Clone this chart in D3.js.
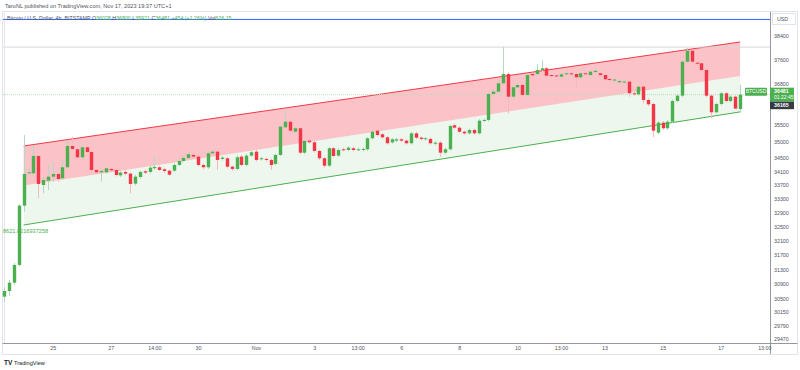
<!DOCTYPE html>
<html><head><meta charset="utf-8">
<script src="https://cdn.jsdelivr.net/npm/d3@7"></script>
<style>body{margin:0;background:#fff;overflow:hidden}svg{display:block;font-family:"Liberation Sans",Arial,sans-serif}</style>
</head><body><svg id="c" width="800" height="370"></svg>
<script>
// ---- data (4h candles, BITSTAMP BTCUSD) ----
const opens = [30580,30733,30957,31440,33111,34060,34060,34580,33714,33841,33960,34040,33912,34240,34883,34782,34540,34843,34700,34159,34090,34090,34190,34159,34000,34100,34050,33753,33950,34120,34100,34210,34240,34180,34138,34138,34309,34429,34520,34610,34560,34309,34240,34660,34710,34490,34510,34258,34190,34560,34309,34590,34710,34480,34490,34459,34339,34610,35457,35630,35320,35426,34679,35045,34996,34731,34510,34288,34813,34590,34782,34761,34813,34770,34761,34782,35118,35352,35240,35148,34993,35045,35087,35045,34965,35270,35136,35087,35097,34950,34984,34679,34782,35519,35445,35320,35270,35373,35270,35662,35684,36504,36578,36846,37145,36418,36718,36792,36473,37145,37145,37276,37331,37113,37100,37060,37135,37168,37145,37040,37168,37113,37210,37168,37113,36984,36936,36880,36880,36900,36526,36494,36737,36313,36186,35290,35600,35426,35630,36281,36450,37548,37910,37515,37495,37276,36450,35925,36186,36526,36281,36418,36028];
const highs = [30841,31030,31495,33160,35219,34190,34913,34610,33950,34309,34408,34100,34459,35066,35167,34830,34900,34920,34750,34200,34180,34260,34230,34190,34130,34150,34090,34020,34140,34170,34280,34559,34290,34220,34170,34360,34480,34600,34700,34680,34600,34350,34720,34760,34760,34580,34560,34290,34600,34610,34640,34740,34770,34560,34530,34500,34650,35520,35997,35700,35480,35470,35090,35100,35040,34770,34550,34860,34860,34810,34830,34880,34860,34830,34840,35160,35370,35400,35280,35190,35130,35130,35130,35090,35320,35320,35180,35160,35140,35030,35030,34830,35540,35570,35490,35360,35420,35420,35710,35730,36560,36630,36900,38033,37200,36770,36850,36850,37160,37190,37472,37604,37380,37160,37150,37190,37220,37210,37190,37220,37210,37270,37300,37210,37160,37030,37010,36970,36950,36950,36570,36790,36790,36360,36230,35650,35650,35680,36330,36500,37600,38000,37960,37560,37540,37320,36500,36230,36570,36570,36460,36460,36800];
const lows = [30439,30600,30900,31400,32937,34010,34000,33334,33470,33567,33812,33812,33880,34200,34760,34480,34500,34650,34060,34040,33812,34050,34100,33960,33950,34000,33470,33700,33900,34040,34060,34170,34120,34080,33970,34100,34270,34390,34480,34520,34260,34180,34190,34620,34159,34440,34200,34130,34150,34260,34270,34550,34410,34440,34420,34159,34300,34580,35400,35300,35260,34630,34630,34950,34680,34460,34230,34240,34540,34550,34720,34720,34720,34730,34720,34740,35080,35170,35100,34920,34950,35000,35000,34920,34920,35090,35050,35040,34920,34900,34559,34630,34740,35400,35280,35220,35230,35230,35230,35620,35640,36460,36530,36800,35893,36370,36670,36420,36420,37060,37100,37230,37040,37030,37020,37010,37090,37100,36740,36990,37090,37070,37170,37070,36930,36900,36890,36840,36830,36418,36450,36450,36209,36120,35150,35240,35380,35380,35590,36230,36400,37500,37500,37430,37230,36400,35740,35880,36140,36230,36230,36030,35921];
const closes = [30733,30957,31440,33111,34040,34090,34580,33744,33862,33960,34040,33892,34240,34883,34791,34540,34843,34700,34159,34090,34129,34210,34150,34010,34080,34050,33744,33960,34100,34080,34228,34250,34159,34129,34019,34309,34429,34520,34631,34560,34309,34240,34660,34710,34459,34530,34258,34190,34540,34309,34590,34691,34459,34510,34459,34309,34610,35476,35630,35352,35426,34679,35035,34996,34731,34510,34288,34813,34580,34761,34761,34831,34761,34782,34791,35118,35320,35219,35148,34965,35087,35087,35045,34965,35270,35136,35097,35118,34965,34984,34679,34782,35497,35445,35320,35270,35373,35270,35662,35684,36504,36578,36846,37145,36418,36718,36792,36473,37113,37103,37276,37331,37091,37081,37070,37135,37168,37145,37040,37168,37135,37220,37250,37113,36975,36952,36968,36920,36900,36526,36494,36737,36313,36176,35352,35600,35426,35630,36281,36450,37548,37910,37548,37482,37276,36450,35925,36186,36526,36281,36418,36040,36481];

// regression channel (start/end candle index, prices at each end)
const channelIdx = [4, 152];
const channelUpper = [34883, 38200];
const channelMid = [33700, 37080];
const channelLower = [32556, 35937];

// price axis tick labels (36000 is hidden behind the price labels)
const priceTicks = [38400,37600,36800,35500,35000,34500,34100,33700,33300,32900,32500,32100,31700,31300,30900,30500,30150,29790,29470];
// time axis tick labels (candle index, label)
const timeTickIdx = [10,22,31,40,52,64,73,82,94,106,115,124,136,148,157];
const timeTickLabels = ["25","27","14:00","30","Nov","3","13:00","6","8","10","13:00","13","15","17","13:00"];

// horizontal lines
const blueLevel = 38960;
const grayLevel = 38030;
const lastPrice = 36481;
const markPrice = 36165;

// ---- drawing ----
const svg = d3.select("#c");
const GREEN = "#4caf50", RED = "#f23645";
const plotL = 3, plotR = 770, plotT = 12, plotB = 343;

const x = d3.scaleLinear().domain([0, 152]).range([4.3, 740.1]);
const y = d3.scaleLog().domain([29470, 38400]).range([339, 36]);

const candles = opens.map((o, i) => ({i, o, h: highs[i], l: lows[i], c: closes[i]}));

// frame
svg.append("rect").attr("x", 2.5).attr("y", 11.5).attr("width", 795).attr("height", 343)
  .attr("fill", "none").attr("stroke", "#e0e3eb").attr("stroke-width", 1);

// header
svg.append("text").attr("x", 5).attr("y", 8).attr("font-size", 5.6).attr("fill", "#50535e")
  .text("TaroNL published on TradingView.com, Nov 17, 2023 19:37 UTC+1");

const g = svg.append("g");

// channel fills
const cx0 = x(channelIdx[0]), cx1 = x(channelIdx[1]);
g.append("path").attr("fill", "rgba(242,54,69,0.3)")
  .attr("d", `M${cx0},${y(channelUpper[0])}L${cx1},${y(channelUpper[1])}L${cx1},${y(channelMid[1])}L${cx0},${y(channelMid[0])}Z`);
g.append("path").attr("fill", "rgba(76,175,80,0.1)")
  .attr("d", `M${cx0},${y(channelMid[0])}L${cx1},${y(channelMid[1])}L${cx1},${y(channelLower[1])}L${cx0},${y(channelLower[0])}Z`);
g.append("line").attr("x1", cx0).attr("x2", cx1).attr("y1", y(channelUpper[0])).attr("y2", y(channelUpper[1]))
  .attr("stroke", RED).attr("stroke-width", 1);
g.append("line").attr("x1", cx0).attr("x2", cx1).attr("y1", y(channelLower[0])).attr("y2", y(channelLower[1]))
  .attr("stroke", GREEN).attr("stroke-width", 1);

// horizontal lines
g.append("line").attr("x1", plotL).attr("x2", plotR).attr("y1", y(grayLevel)).attr("y2", y(grayLevel))
  .attr("stroke", "#d6d6d6").attr("stroke-width", 1);
g.append("line").attr("x1", plotL).attr("x2", plotR).attr("y1", y(lastPrice)).attr("y2", y(lastPrice))
  .attr("stroke", "#b9dcba").attr("stroke-width", 1).attr("stroke-dasharray", "1,1");
g.append("line").attr("x1", 4.5).attr("x2", 4.5).attr("y1", plotT).attr("y2", plotB)
  .attr("stroke", "#e6e6e6").attr("stroke-width", 1);

// candles
const cg = g.append("g");
cg.selectAll("line.w").data(candles).join("line").attr("class", "w")
  .attr("x1", d => Math.round(x(d.i)) + 0.5).attr("x2", d => Math.round(x(d.i)) + 0.5)
  .attr("y1", d => y(d.h)).attr("y2", d => y(d.l))
  .attr("stroke", d => d.c >= d.o ? "#b5d8c0" : "#f3b9bf").attr("stroke-width", 1);
cg.selectAll("rect.b").data(candles).join("rect").attr("class", "b")
  .attr("x", d => Math.round(x(d.i)) - 1.2).attr("width", 3.4)
  .attr("y", d => y(Math.max(d.o, d.c)))
  .attr("height", d => Math.max(1, Math.abs(y(d.o) - y(d.c))))
  .attr("fill", d => d.c >= d.o ? GREEN : RED);

// regression label
g.append("text").attr("x", 3).attr("y", 233).attr("font-size", 5.6).attr("fill", GREEN)
  .text("8621.0216937258");

// blue line + legend
g.append("line").attr("x1", plotL).attr("x2", plotR).attr("y1", y(blueLevel)).attr("y2", y(blueLevel))
  .attr("stroke", "#2962ff").attr("stroke-width", 1);
const leg = svg.append("text").attr("x", 7).attr("y", 20).attr("font-size", 5.3);
const legParts = [["Bitcoin / U.S. Dollar, 4h, BITSTAMP ", "#50535e"], ["O", "#50535e"], ["36028 ", GREEN], ["H", "#50535e"], ["36800 ", GREEN],
  ["L", "#50535e"], ["35921 ", GREEN], ["C", "#50535e"], ["36481 ", GREEN], ["+454 (+1.26%) ", GREEN], ["Vol", "#50535e"], ["626.15", GREEN]];
legParts.forEach(([t, c]) => leg.append("tspan").attr("fill", c).text(t));

// right price axis
svg.append("line").attr("x1", plotR + 0.5).attr("x2", plotR + 0.5).attr("y1", plotT).attr("y2", 354)
  .attr("stroke", "#9598a1").attr("stroke-width", 1);
const ax = svg.append("g").attr("transform", `translate(${plotR},0)`)
  .call(d3.axisRight(y).tickValues(priceTicks).tickFormat(d3.format("d")).tickSize(0).tickPadding(4));
ax.select(".domain").remove();
ax.selectAll("text").attr("font-size", 5.3).attr("fill", "#50535e").attr("font-family", "Liberation Sans, Arial, sans-serif").attr("dy", "0.2em");

svg.append("rect").attr("x", 772.5).attr("y", 13.5).attr("width", 23).attr("height", 11).attr("fill", "#fff").attr("stroke", "#e0e3eb");
svg.append("text").attr("x", 777).attr("y", 21).attr("font-size", 5.3).attr("fill", "#50535e").text("USD");

// last price labels
const ly = y(lastPrice);
svg.append("rect").attr("x", 745).attr("y", ly - 7).attr("width", 22).attr("height", 8).attr("fill", GREEN).attr("rx", 1);
svg.append("text").attr("x", 756).attr("y", ly - 1.3).attr("text-anchor", "middle").attr("font-size", 5).attr("fill", "#fff").text("BTCUSD");
svg.append("rect").attr("x", 770).attr("y", ly - 7).attr("width", 24).attr("height", 14).attr("fill", GREEN);
svg.append("text").attr("x", 774).attr("y", ly - 1.5).attr("font-size", 5.3).attr("font-weight", "bold").attr("fill", "#fff").text(String(lastPrice));
svg.append("text").attr("x", 774).attr("y", ly + 4.5).attr("font-size", 5).attr("fill", "#fff").text("01:22:45");
const my = y(lastPrice) + 7;
svg.append("rect").attr("x", 770).attr("y", my).attr("width", 24).attr("height", 7.5).attr("fill", "#363a45");
svg.append("text").attr("x", 774).attr("y", my + 5.6).attr("font-size", 5.3).attr("font-weight", "bold").attr("fill", "#fff").text(String(markPrice));

// bottom time axis
svg.append("line").attr("x1", 2.5).attr("x2", 797.5).attr("y1", plotB + 0.5).attr("y2", plotB + 0.5).attr("stroke", "#9598a1");
const tax = svg.append("g").attr("transform", `translate(0,${plotB})`)
  .call(d3.axisBottom(x).tickValues(timeTickIdx).tickFormat((d, k) => timeTickLabels[k]).tickSize(0).tickPadding(3));
tax.select(".domain").remove();
tax.selectAll("text").attr("font-size", 5.3).attr("fill", "#50535e").attr("font-family", "Liberation Sans, Arial, sans-serif");

// TradingView mark
svg.append("text").attr("x", 4).attr("y", 365).attr("font-size", 6.5).attr("font-weight", "bold").attr("fill", "#131722").text("TV");
svg.append("text").attr("x", 14).attr("y", 365).attr("font-size", 5.6).attr("fill", "#131722").text("TradingView");
</script></body></html>
